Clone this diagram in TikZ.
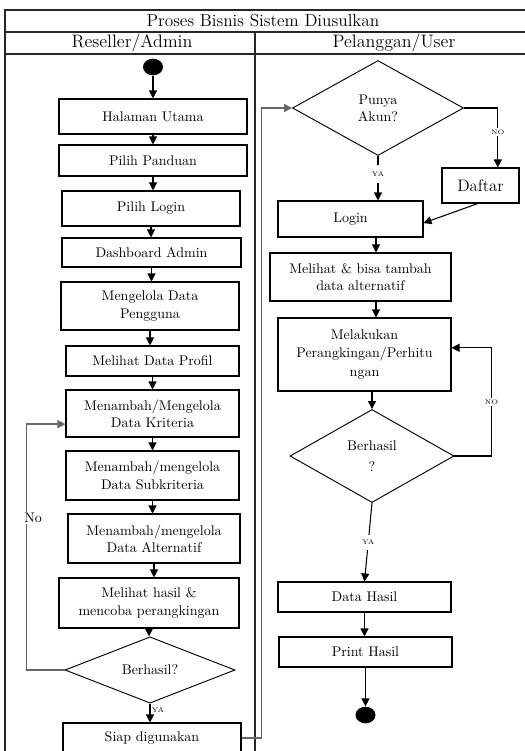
\documentclass[tikz,border=0pt]{standalone}
\usetikzlibrary{shapes.geometric,arrows.meta}
\begin{document}
\begin{tikzpicture}[x=0.75pt,y=-0.75pt,
  proc/.style={draw, line width=0.8pt, align=center,
    font=\fontsize{10.5}{13}\selectfont, inner sep=1pt},
  dec/.style={draw, diamond, line width=0.7pt, align=center,
    font=\fontsize{10.5}{13}\selectfont, inner sep=0pt},
  flow/.style={-{Triangle[length=6pt,width=6pt]}, line width=0.8pt},
  back/.style={-{Triangle[length=6pt,width=6pt]}, line width=1.1pt, draw=black!60},
  term/.style={ellipse, fill=black, minimum width=15pt, minimum height=12.5pt, inner sep=0pt},
  tag/.style={font=\fontsize{5}{6}\selectfont, fill=white, inner sep=1pt},
  lane/.style={line width=0.9pt, draw=black!85},
  head/.style={font=\fontsize{13.5}{15}\selectfont}]

\useasboundingbox (0,0) rectangle (525,751);
\clip (0,0) rectangle (525,751);

% swimlane frame
\draw[lane] (5,760) -- (5,10) -- (535,10);
\draw[lane] (5,32) -- (535,32);
\draw[lane] (5,54) -- (535,54);
\draw[lane] (255,32) -- (255,760);
\node[head, font=\fontsize{13}{15}\selectfont] (title) at (263,21) {Proses Bisnis Sistem Diusulkan};
\node[head] (laneA) at (132,43) {Reseller/Admin};
\node[head] (laneB) at (394,43) {Pelanggan/User};

% Reseller/Admin lane
\node[term] (start) at (153,67) {};
\node[proc, minimum width=141pt, minimum height=26.25pt] (hal) at (153,116.5) {Halaman Utama};
\node[proc, minimum width=141pt, minimum height=23.25pt] (pan) at (153,160.5) {Pilih Panduan};
\node[proc, minimum width=133.5pt, minimum height=26.25pt] (plog) at (151,208.5) {Pilih Login};
\node[proc, minimum width=134.25pt, minimum height=21.75pt] (dash) at (151.5,252.5) {Dashboard Admin};
\node[proc, minimum width=133.5pt, minimum height=36pt] (peng) at (150,306) {Mengelola Data\\Pengguna};
\node[proc, minimum width=129.75pt, minimum height=22.5pt] (prof) at (152.5,361) {Melihat Data Profil};
\node[proc, minimum width=129.75pt, minimum height=35.25pt] (krit) at (152.5,413.5) {Menambah/Mengelola\\Data Kriteria};
\node[proc, minimum width=129.75pt, minimum height=36.75pt] (sub) at (152.5,475.5) {Menambah/mengelola\\Data Subkriteria};
\node[proc, minimum width=129pt, minimum height=36.75pt] (alt) at (154,538.5) {Menambah/mengelola\\Data Alternatif};
\node[proc, minimum width=135pt, minimum height=37.5pt] (hsl) at (149,603) {Melihat hasil \&\\mencoba perangkingan};
\node[dec, minimum width=127.5pt, minimum height=42pt] (dec1) at (150,670) {Berhasil?};
\node[proc, minimum width=133.5pt, minimum height=22.5pt] (siap) at (152,738) {Siap digunakan};

\draw[flow] (start) -- (start.south |- hal.north);
\draw[flow] (hal.south) -- (hal.south |- pan.north);
\draw[flow] (pan.south) -- (pan.south |- plog.north);
\draw[flow] (plog.south) -- (plog.south |- dash.north);
\draw[flow] (dash.south) -- (dash.south |- peng.north);
\draw[flow] (peng.south) -- (peng.south |- prof.north);
\draw[flow] (prof.south) -- (prof.south |- krit.north);
\draw[flow] (krit.south) -- (krit.south |- sub.north);
\draw[flow] (sub.south) -- (sub.south |- alt.north);
\draw[flow] (alt.south) -- (alt.south |- hsl.north);
\draw[flow] (hsl.south) -- (hsl.south |- dec1.north);
\draw[flow] (dec1.south) -- (dec1.south |- siap.north)
  node[pos=0.35, right, font=\fontsize{5}{6}\selectfont, inner sep=1pt] (ya1) {YA};
\draw[back] (dec1.west) -- ++(-38,0) |- ([yshift=-8pt]krit.west);
\node[fill=white, inner sep=1pt, font=\fontsize{10.5}{12}\selectfont] (no1) at (33,518) {No};

% Pelanggan/User lane
\node[dec, minimum width=128.25pt, minimum height=71.25pt] (akun) at (378,108) {Punya\\Akun?};
\node[proc, minimum width=57.75pt, minimum height=26.25pt, font=\fontsize{12.5}{14}\selectfont] (daftar) at (480.5,185.5) {Daftar};
\node[proc, minimum width=108.75pt, minimum height=27pt] (login) at (350.5,219) {Login};
\node[proc, minimum width=135.75pt, minimum height=36pt] (alt2) at (360.5,277) {Melihat \& bisa tambah\\data alternatif};
\node[proc, minimum width=129.75pt, minimum height=54.75pt, font=\fontsize{10.5}{13.9}\selectfont] (rank) at (364.5,354.5) {Melakukan\\Perangkingan/Perhitu\\ngan};
\node[dec, minimum width=123pt, minimum height=69.75pt] (dec2) at (372,456) {Berhasil\\[2.75pt]?};
\node[proc, minimum width=129.75pt, minimum height=22.5pt] (hasil) at (364.5,597) {Data Hasil};
\node[proc, minimum width=129.75pt, minimum height=22.5pt] (print) at (365.5,652) {Print Hasil};
\node[term] (stop) at (365.5,715) {};

% hand-over from the admin lane to the customer lane
\draw[back] (siap.east) -- ++(20,0) |- (akun.west);

\coordinate (spine) at (376,0);
\draw[flow] (akun.south) -- (akun.south |- login.north)
  node[tag, pos=0.4, inner ysep=5pt] (ya2) {YA};
\draw[flow] (akun.east) -| ([xshift=13pt]daftar.north)
  node[tag, pos=0.7] (no2) {NO};
\draw[flow] ([xshift=-2pt]daftar.south) -- ([yshift=-3pt]login.east);
\draw[flow] (login.south -| spine) -- (alt2.north -| spine);
\draw[flow] (alt2.south -| spine) -- (rank.north -| spine);
\draw[flow] (rank.south -| dec2.north) -- (dec2.north);
\draw[flow] (dec2.east) -- ++(37,0) |- ([yshift=5pt]rank.east)
  node[tag, pos=0.25] (no3) {NO};
\draw[flow] (dec2.south) -- (hasil.north)
  node[tag, pos=0.5, inner ysep=4pt] (ya3) {YA};
\draw[flow] (hasil.south) -- (hasil.south |- print.north);
\draw[flow] (print.south) -- (stop.north);
\end{tikzpicture}
\end{document}
